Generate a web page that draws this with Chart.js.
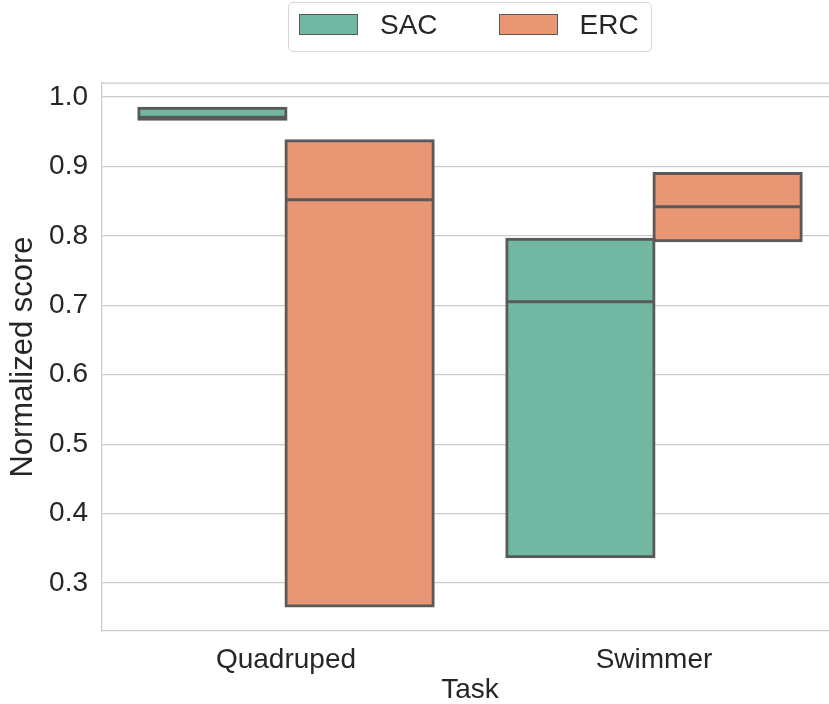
<!DOCTYPE html>
<html>
<head>
<meta charset="utf-8">
<script src="https://cdn.jsdelivr.net/npm/chart.js@4"></script>
<style>
    html, body { margin: 0; padding: 0; background: #fff; overflow: hidden; }
    #wrap { position: absolute; left: 0; top: 0; width: 940px; height: 704px; }
    #legend {
        position: absolute; left: 288px; top: 2px; width: 364px; height: 50px;
        box-sizing: border-box; border: 1px solid #d6d6d6; border-radius: 5px;
        background: rgba(255, 255, 255, 0.8);
        display: flex; align-items: center; padding: 0 0 5px 10px;
        font-family: "Liberation Sans", Arial, sans-serif; font-size: 28px; color: #262626;
    }
    .legend-item { display: flex; align-items: center; }
    .legend-item + .legend-item { margin-left: 61px; }
    .legend-swatch { width: 59px; height: 21px; box-sizing: border-box; border: 1.5px solid #595959; margin-right: 22px; }
</style>
</head>
<body>
<div id="wrap">
    <canvas id="chart" width="940" height="704"></canvas>
    <div id="legend"></div>
</div>
<script>
// --- Data ---
const tasks = ['Quadruped', 'Swimmer'];
const seriesNames = ['SAC', 'ERC'];

const sacLow = [0.968, 0.338];
const sacHigh = [0.984, 0.795];
const sacMedian = [0.971, 0.705];

const ercLow = [0.267, 0.793];
const ercHigh = [0.937, 0.890];
const ercMedian = [0.852, 0.842];

const yTicks = [0.3, 0.4, 0.5, 0.6, 0.7, 0.8, 0.9, 1.0];
const yMin = 0.2309;
const yMax = 1.0202;

// --- Styles ---
const fillColors = ['#72b7a1', '#e99675'];
const lineGray = '#595959';
const textColor = '#262626';
const fontFamily = '"Liberation Sans", Arial, sans-serif';

const toRanges = (low, high) => low.map((v, i) => [v, high[i]]);

// median lines and the top/right spines
const boxExtras = {
    id: 'boxExtras',
    beforeDatasetsDraw(chart) {
        const { ctx, chartArea } = chart;
        ctx.save();
        ctx.strokeStyle = '#cccccc';
        ctx.lineWidth = 1.25;
        ctx.beginPath();
        ctx.moveTo(chartArea.left, chartArea.top);
        ctx.lineTo(chartArea.right, chartArea.top);
        ctx.lineTo(chartArea.right, chartArea.bottom);
        ctx.stroke();
        ctx.restore();
    },
    afterDatasetsDraw(chart) {
        const { ctx, scales: { y } } = chart;
        ctx.save();
        ctx.strokeStyle = lineGray;
        ctx.lineWidth = 3;
        chart.data.datasets.forEach((ds, i) => {
            const meta = chart.getDatasetMeta(i);
            meta.data.forEach((bar, j) => {
                const py = y.getPixelForValue(ds.medians[j]);
                ctx.beginPath();
                ctx.moveTo(bar.x - bar.width / 2, py);
                ctx.lineTo(bar.x + bar.width / 2, py);
                ctx.stroke();
            });
        });
        ctx.restore();
    }
};

const chart = new Chart(document.getElementById('chart'), {
    type: 'bar',
    data: {
        labels: tasks,
        datasets: [
            {
                label: seriesNames[0],
                data: toRanges(sacLow, sacHigh),
                medians: sacMedian,
                backgroundColor: fillColors[0]
            },
            {
                label: seriesNames[1],
                data: toRanges(ercLow, ercHigh),
                medians: ercMedian,
                backgroundColor: fillColors[1]
            }
        ]
    },
    options: {
        responsive: false,
        animation: false,
        layout: { padding: { top: 83, right: 102, left: 0, bottom: 0 } },
        datasets: {
            bar: {
                categoryPercentage: 0.8,
                barPercentage: 1.0,
                borderColor: lineGray,
                borderWidth: 3,
                borderSkipped: false,
                inflateAmount: 1.5
            }
        },
        scales: {
            x: {
                grid: { display: false },
                border: { display: true, color: '#cccccc', width: 1.25 },
                ticks: { color: textColor, font: { family: fontFamily, size: 28 }, padding: 4 },
                title: {
                    display: true, text: 'Task', color: textColor,
                    font: { family: fontFamily, size: 28, lineHeight: 1.0 },
                    padding: { top: 0, bottom: 0 }
                },
                afterFit(scale) { scale.height = 73; }
            },
            y: {
                min: yMin,
                max: yMax,
                afterBuildTicks(scale) { scale.ticks = yTicks.map(v => ({ value: v })); },
                grid: { color: '#cccccc', lineWidth: 1.25, drawTicks: false },
                border: { display: true, color: '#cccccc', width: 1.25 },
                ticks: {
                    color: textColor, font: { family: fontFamily, size: 28 }, padding: 14,
                    callback: v => v.toFixed(1)
                },
                title: {
                    display: true, text: 'Normalized score', color: textColor,
                    font: { family: fontFamily, size: 31, lineHeight: 1.2 },
                    padding: { top: 5, bottom: 0 }
                },
                afterFit(scale) { scale.width = 102; }
            }
        },
        plugins: {
            legend: { display: false },
            tooltip: { enabled: false }
        }
    },
    plugins: [boxExtras]
});

// --- HTML legend built from the chart's datasets ---
const legendEl = document.getElementById('legend');
chart.data.datasets.forEach(ds => {
    const item = document.createElement('div');
    item.className = 'legend-item';
    const swatch = document.createElement('span');
    swatch.className = 'legend-swatch';
    swatch.style.background = ds.backgroundColor;
    const text = document.createElement('span');
    text.textContent = ds.label;
    item.appendChild(swatch);
    item.appendChild(text);
    legendEl.appendChild(item);
});
</script>
</body>
</html>
